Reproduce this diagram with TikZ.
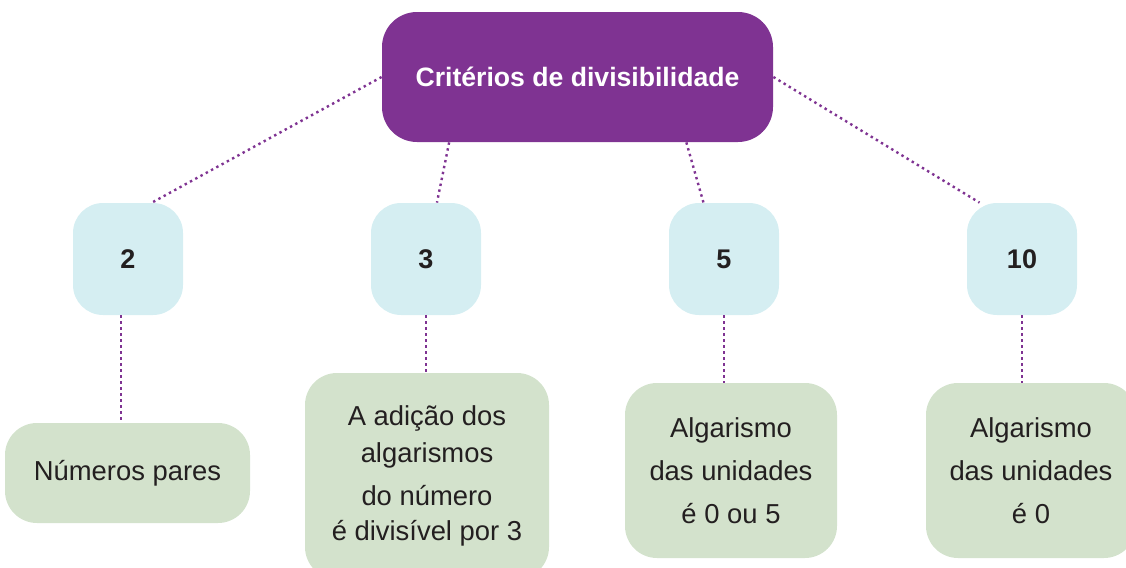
\documentclass[tikz,border=0pt]{standalone}
\usepackage{fontspec}
\setmainfont{Liberation Sans}
\usepackage{tikz}
\usepackage{xcolor}
\usetikzlibrary{positioning}
\definecolor{CritPurple}{HTML}{7F3392}
\definecolor{CritBlue}{HTML}{D5EEF2}
\definecolor{CritGreen}{HTML}{D3E2CC}
\definecolor{CritText}{HTML}{231F20}
\tikzset{
    % Base node style
    basenode/.style={
        rounded corners=15pt,
        inner sep=0pt,
        align=center,
        text=CritText,
        font=\fontsize{13.7}{21.5}\selectfont
    },
    % Title box
    titlenode/.style={
        basenode,
        fill=CritPurple,
        text=white,
        rounded corners=17.5pt,
        minimum width=195.5pt,
        minimum height=65pt,
        font=\fontsize{13.3}{16}\selectfont\bfseries
    },
    % Divisor box
    numbernode/.style={
        basenode,
        fill=CritBlue,
        minimum width=55pt,
        minimum height=56pt,
        font=\fontsize{13.5}{16}\selectfont\bfseries
    },
    % Rule box
    rulenode/.style={
        basenode,
        fill=CritGreen,
        rounded corners=16pt
    },
    % Dotted connector
    dotline/.style={
        draw=CritPurple,
        line width=1.2pt,
        dash pattern=on 1.2pt off 1.8pt
    }
}
\begin{document}
\begin{tikzpicture}[x=0.5pt,y=-0.5pt]
        \useasboundingbox (0,0) rectangle (1126,568);
        \clip (0,0) rectangle (1126,568);

        % Top level
        \node[titlenode] (title) at (577.5,77) {Critérios de divisibilidade};

        % Divisors
        \node[numbernode] (n2) at (128,259) {2};
        \node[numbernode] (n3) at (426,259) {3};
        \node[numbernode] (n5) at (724,259) {5};
        \node[numbernode] (n10) at (1022,259) {10};

        % Rules
        \node[rulenode, minimum width=122.5pt, minimum height=50pt] (r2) at (127.5,473) {Números pares};
        \node[rulenode, minimum width=122pt, minimum height=103pt,
              font=\fontsize{13.7}{18.5}\selectfont] (r3) at (427,476)
              {A adição dos\\algarismos\\[3pt]do número\\[-1pt]é divisível por 3};
        \node[rulenode, minimum width=106pt, minimum height=87.5pt] (r5) at (731,470.5)
              {Algarismo\\das unidades\\é 0 ou 5};
        \node[rulenode, minimum width=105pt, minimum height=87.5pt] (r10) at (1031,470.5)
              {Algarismo\\das unidades\\é 0};

        % Connectors
        \draw[dotline] (title.west) -- (n2.67);
        \draw[dotline] (title.207) -- (n3.79);
        \draw[dotline] (title.329) -- (n5.110);
        \draw[dotline] (title.east) -- (n10.127);

        \draw[dotline] (n2.263) -- (n2.263 |- r2.north);
        \draw[dotline] (n3.south) -- (n3.south |- r3.north);
        \draw[dotline] (n5.south) -- (n5.south |- r5.north);
        \draw[dotline] (n10.south) -- (n10.south |- r10.north);
    \end{tikzpicture}
\end{document}
